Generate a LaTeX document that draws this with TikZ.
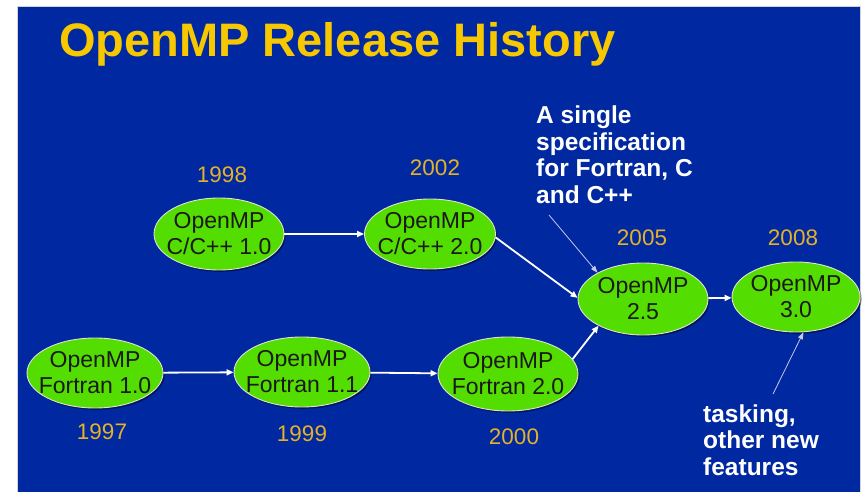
\documentclass[tikz,border=0pt]{standalone}
\usepackage{fontspec}
\setmainfont{Liberation Sans}
\usetikzlibrary{shapes.geometric,arrows.meta,shadows}

\definecolor{slideblue}{RGB}{0,40,160}
\definecolor{relgreen}{RGB}{84,221,0}
\definecolor{rimgrey}{RGB}{225,225,215}
\definecolor{titleyellow}{RGB}{247,200,0}
\definecolor{yeargold}{RGB}{228,178,40}
\definecolor{notearrow}{RGB}{200,200,232}

\begin{document}
\begin{tikzpicture}[x=1pt,y=-1pt,
  release/.style={ellipse, fill=relgreen, draw=rimgrey, line width=0.9pt,
    inner sep=0pt, minimum width=132pt, minimum height=70pt,
    drop shadow={shadow xshift=1.6pt, shadow yshift=-1.8pt, fill=black, opacity=0.45}},
  reltext/.style={align=center, text=black!90, inner sep=0pt,
    font=\fontsize{23}{26}\selectfont},
  yearlabel/.style={text=yeargold, inner sep=0pt, font=\fontsize{22.5}{26}\selectfont},
  note/.style={text=white, align=left, inner sep=0pt,
    font=\bfseries\fontsize{24.5}{26.5}\selectfont},
  flow/.style={draw=white, line width=1.8pt, -{Triangle[length=7pt,width=6pt]}},
  pointer/.style={draw=notearrow, line width=0.8pt, -{Triangle[length=7pt,width=5pt]}}
]
  % slide background
  \useasboundingbox (0,0) rectangle (862,492);
  \fill[white] (0,0) rectangle (862,492);
  \fill[slideblue] (17,6) rectangle (860,492);
  \draw[gray!35, line width=0.8pt] (17,492) -- (17,6) -- (860,6) -- (860,492);

  % title
  \node[anchor=base west, inner sep=0pt, text=titleyellow,
        font=\bfseries\fontsize{47}{56}\selectfont] (title) at (59,57) {OpenMP Release History};

  % releases
  \node[release, minimum width=130pt, minimum height=72pt] (c10) at (219,234)
    [label={[reltext]center:{OpenMP\\C/C++ 1.0}}] {};
  \node[release, minimum width=131pt, minimum height=70pt] (c20) at (430,234)
    [label={[reltext]center:{OpenMP\\C/C++ 2.0}}] {};
  \node[release, minimum width=130pt, minimum height=72pt] (v25) at (643,299)
    [label={[reltext]center:{OpenMP\\2.5}}] {};
  \node[release, minimum width=128pt, minimum height=70pt] (v30) at (796,297)
    [label={[reltext]center:{OpenMP\\3.0}}] {};
  \node[release, minimum width=136pt, minimum height=70pt] (f10) at (95,373)
    [label={[reltext]center:{OpenMP\\Fortran 1.0}}] {};
  \node[release, minimum width=136pt, minimum height=70pt] (f11) at (302,372)
    [label={[reltext]center:{OpenMP\\Fortran 1.1}}] {};
  \node[release, minimum width=140pt, minimum height=74pt] (f20) at (508,374)
    [label={[reltext]center:{OpenMP\\Fortran 2.0}}] {};

  % years
  \node[yearlabel] (y1998) at (222,175) {1998};
  \node[yearlabel] (y2002) at (435,168) {2002};
  \node[yearlabel] (y2005) at (642,238) {2005};
  \node[yearlabel] (y2008) at (793,238) {2008};
  \node[yearlabel] (y1997) at (102,432) {1997};
  \node[yearlabel] (y1999) at (302,434) {1999};
  \node[yearlabel] (y2000) at (514,437) {2000};

  % release flow
  \draw[flow] (c10) -- (c20);
  \draw[flow] (f10) -- (f11);
  \draw[flow] (f11) -- (f20);
  \draw[flow] (c20.-3) -- (v25.179);
  \draw[flow] (f20.13) -- (v25.211);
  \draw[flow] (v25) -- (v30);

  % annotations (anchored at the baseline of their last line)
  \node[note, anchor=base west] (spec) at (536,203)
    {A single\\specification\\for Fortran, C\\and C++};
  \node[note, anchor=base west] (tasking) at (703,475)
    {tasking,\\other new\\features};
  \coordinate (specfoot) at (549,215);
  \coordinate (taskfoot) at (773,394);
  \draw[pointer] (specfoot) -- (v25.150);
  \draw[pointer] (taskfoot) -- (v30.-78);
\end{tikzpicture}
\end{document}
